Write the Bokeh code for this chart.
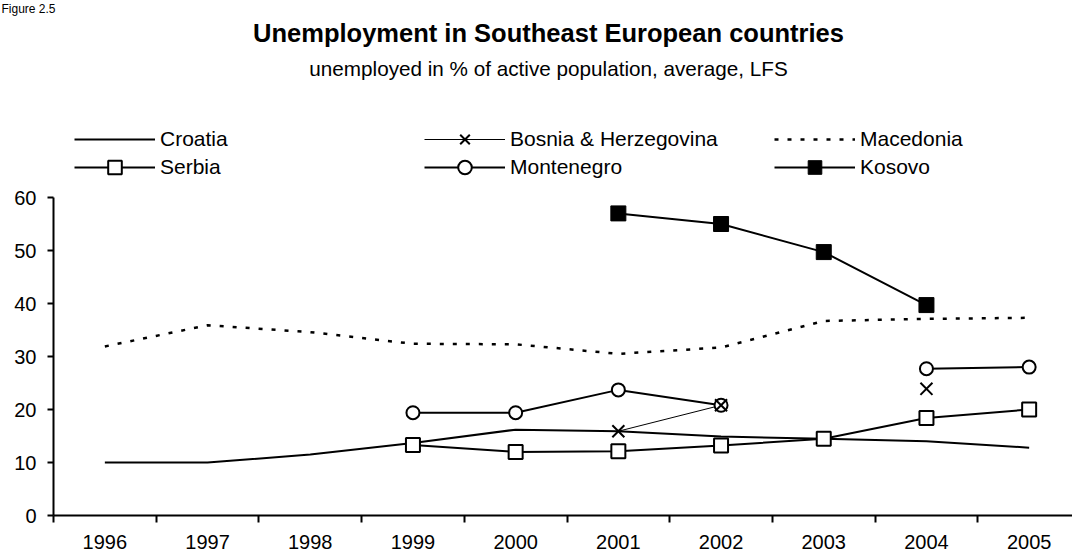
from bokeh.plotting import figure
from bokeh.models import Range1d, FixedTicker, Label, Legend, LegendItem
from bokeh.embed import file_html
from bokeh.resources import INLINE

nan = float("nan")

# ---- data ----
years = [1996, 1997, 1998, 1999, 2000, 2001, 2002, 2003, 2004, 2005]
year_labels = ["1996", "1997", "1998", "1999", "2000", "2001", "2002", "2003", "2004", "2005"]
y_ticks = [0, 10, 20, 30, 40, 50, 60]

croatia    = [10.0, 10.0, 11.5, 13.7, 16.2, 15.9, 14.9, 14.5, 14.0, 12.8]
bosnia     = [nan, nan, nan, nan, nan, 15.9, 20.8, nan, 23.9, nan]
macedonia  = [31.9, 35.9, 34.6, 32.4, 32.3, 30.5, 31.7, 36.7, 37.1, 37.3]
serbia     = [nan, nan, nan, 13.3, 12.0, 12.1, 13.2, 14.5, 18.4, 20.0]
montenegro = [nan, nan, nan, 19.4, 19.4, 23.7, 20.8, nan, 27.7, 28.0]
kosovo     = [nan, nan, nan, nan, nan, 57.0, 55.0, 49.7, 39.7, nan]

FONT = "Liberation Sans"

W, H = 1072, 553
# layout geometry (pixels): axes origin and scales
X0_PX, CAT_PX = 53.0, 102.7        # left edge of first category, width of one category
Y0_PX, UNIT_PX = 515.0, 5.3        # pixel row of value 0, pixels per unit
x_start = (years[0] - 0.5) - X0_PX / CAT_PX
x_end = (years[0] - 0.5) + (W - X0_PX) / CAT_PX
y_start = -(H - Y0_PX) / UNIT_PX
y_end = Y0_PX / UNIT_PX

p = figure(width=W, height=H, output_backend="svg", toolbar_location=None,
           x_range=Range1d(x_start, x_end), y_range=Range1d(y_start, y_end),
           min_border_left=0, min_border_right=0, min_border_top=0,
           min_border_bottom=0)
p.outline_line_color = None
p.xgrid.visible = False
p.ygrid.visible = False
p.background_fill_color = "white"
p.border_fill_color = "white"

# axes (fixed inside the frame so geometry is exact)
xa = p.xaxis[0]
xa.fixed_location = 0
xa.bounds = (years[0] - 0.5, years[-1] + 0.5)
xa.ticker = FixedTicker(ticks=years, minor_ticks=[y - 0.5 for y in years] + [years[-1] + 0.5])
xa.major_label_overrides = {y: l for y, l in zip(years, year_labels)}
xa.major_tick_out = 0
xa.major_tick_in = 0
xa.major_tick_line_color = None
xa.minor_tick_out = 7
xa.minor_tick_in = 0
xa.minor_tick_line_color = "black"
xa.minor_tick_line_width = 2
xa.axis_line_width = 2
xa.axis_line_color = "black"
xa.major_label_standoff = 12
xa.major_label_text_font = FONT
xa.major_label_text_font_size = "20px"
xa.major_label_text_color = "black"

ya = p.yaxis[0]
ya.fixed_location = years[0] - 0.5
ya.ticker = FixedTicker(ticks=y_ticks, minor_ticks=[])
ya.bounds = (0, 60)
ya.major_tick_out = 6
ya.major_tick_in = 0
ya.major_tick_line_width = 2
ya.major_tick_line_color = "black"
ya.minor_tick_line_color = None
ya.axis_line_width = 2
ya.axis_line_color = "black"
ya.major_label_standoff = 11
ya.major_label_text_font = FONT
ya.major_label_text_font_size = "20px"
ya.major_label_text_color = "black"

# series
r_cro = p.line(years, croatia, line_color="black", line_width=2)
r_mac = p.line(years, macedonia, line_color="black", line_width=2.5, line_dash="4 9")
r_ser_l = p.line(years, serbia, line_color="black", line_width=2)
r_mon_l = p.line(years, montenegro, line_color="black", line_width=2)
r_kos_l = p.line(years, kosovo, line_color="black", line_width=2)
r_bos_l = p.line(years, bosnia, line_color="black", line_width=1)

r_ser_m = p.scatter(years, serbia, marker="square", size=14, fill_color="white",
                    line_color="black", line_width=2)
r_mon_m = p.scatter(years, montenegro, marker="circle", size=13, fill_color="white",
                    line_color="black", line_width=2)
r_kos_m = p.scatter(years, kosovo, marker="square", size=15, fill_color="black",
                    line_color="black", line_width=1)
r_bos_m = p.scatter(years, bosnia, marker="x", size=17, line_color="black", line_width=2)

# legend (two rows)
common = dict(orientation="horizontal", glyph_width=81, glyph_height=34,
              label_standoff=5, label_width=259, label_height=34, spacing=5,
              padding=0, margin=0, border_line_alpha=0, background_fill_alpha=0,
              label_text_font=FONT, label_text_font_size="21px",
              label_text_color="black")
leg1 = Legend(items=[
    LegendItem(label="Croatia", renderers=[r_cro]),
    LegendItem(label="Bosnia & Herzegovina", renderers=[r_bos_l, r_bos_m]),
    LegendItem(label="Macedonia", renderers=[r_mac]),
], location=(74, 397), **common)
leg2 = Legend(items=[
    LegendItem(label="Serbia", renderers=[r_ser_l, r_ser_m]),
    LegendItem(label="Montenegro", renderers=[r_mon_l, r_mon_m]),
    LegendItem(label="Kosovo", renderers=[r_kos_l, r_kos_m]),
], location=(74, 369), **common)
p.add_layout(leg1)
p.add_layout(leg2)

# titles
p.add_layout(Label(x=548, y=H - 32, x_units="screen", y_units="screen",
                   text="Unemployment in Southeast European countries",
                   text_align="center", text_baseline="middle",
                   text_font=FONT, text_font_size="25.5px", text_font_style="bold",
                   text_color="black"))
p.add_layout(Label(x=548, y=H - 68, x_units="screen", y_units="screen",
                   text="unemployed in % of active population, average, LFS",
                   text_align="center", text_baseline="middle",
                   text_font=FONT, text_font_size="20.7px", text_color="black"))
p.add_layout(Label(x=1, y=H - 1, x_units="screen", y_units="screen",
                   text="Figure 2.5", text_align="left", text_baseline="top",
                   text_font=FONT, text_font_size="12px", text_color="black"))

open("out.html", "w").write(file_html(p, INLINE))
